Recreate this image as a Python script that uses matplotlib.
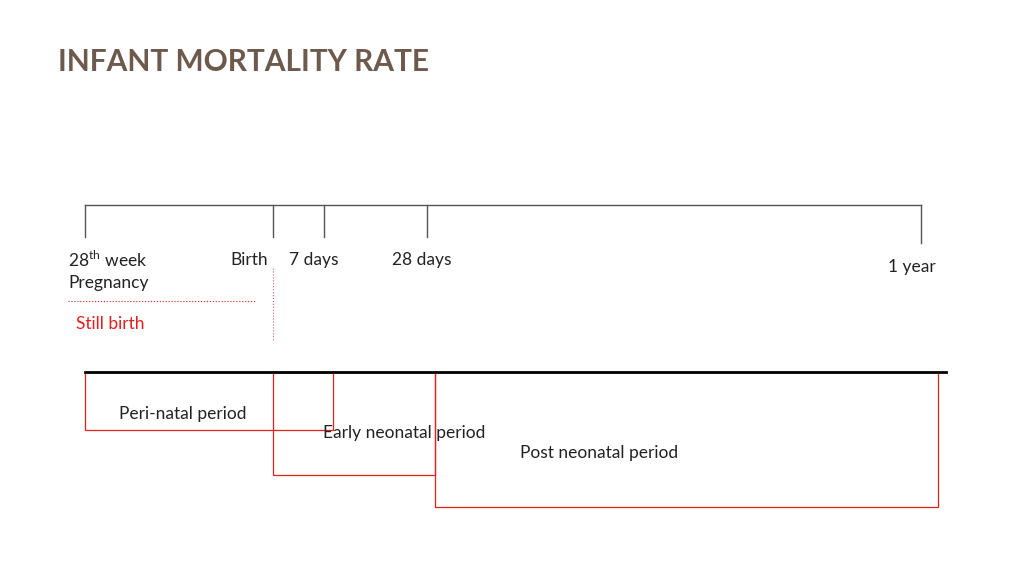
import matplotlib
matplotlib.use("Agg")
import matplotlib.pyplot as plt
from matplotlib.patches import Rectangle

title = "INFANT MORTALITY RATE"
tick_x = [85, 273, 324, 427, 921]
tick_labels = ["28$^{\\mathrm{th}}$ week", "Birth", "7 days", "28 days", "1 year"]
periods = ["Peri-natal period", "Early neonatal period", "Post neonatal period"]
period_start = [85, 273, 435]
period_end = [333, 435, 938]
period_bottom = [430, 475, 507]

fig = plt.figure(figsize=(10.24, 5.78), dpi=100)
ax = fig.add_axes([0, 0, 1, 1])
ax.set_xlim(0, 1024); ax.set_ylim(578, 0); ax.axis("off")
fn = "Lato"
red = "#E0201B"
plt.rcParams["mathtext.fontset"] = "custom"
plt.rcParams["mathtext.rm"] = fn

ax.text(58, 62, title, fontsize=21.5, fontweight="bold", color="#6E5A4D", family=fn, va="center")

ax.plot([85, 921], [205, 205], color="#555555", lw=1)
for x in tick_x:
    ax.plot([x, x], [205, 243 if x == 921 else 237], color="#555555", lw=1)
lab_x = [68, 230, 289, 392, 888]
lab_y = [260, 260, 260, 260, 267]
for x, y, t in zip(lab_x, lab_y, tick_labels):
    ax.text(x, y, t, fontsize=12.5, family=fn, va="center", color="#222222")
ax.text(68, 283, "Pregnancy", fontsize=12.5, family=fn, va="center", color="#222222")
ax.plot([68, 255], [301, 301], color=red, lw=0.8, ls=":")
ax.text(76, 324, "Still birth", fontsize=12.5, family=fn, va="center", color=red)
ax.plot([273, 273], [268, 340], color=red, lw=0.8, ls=":", alpha=0.7)

for s, e, b in zip(period_start, period_end, period_bottom):
    ax.add_patch(Rectangle((s, 372), e - s, b - 372, fill=False, edgecolor=red, lw=0.9))
ax.plot([85, 946], [372, 372], color="black", lw=2)
for x, y, t in zip([119, 323, 520], [414, 433, 453], periods):
    ax.text(x, y, t, fontsize=12.5, family=fn, va="center", color="#222222")

fig.savefig("out.png", dpi=100)
